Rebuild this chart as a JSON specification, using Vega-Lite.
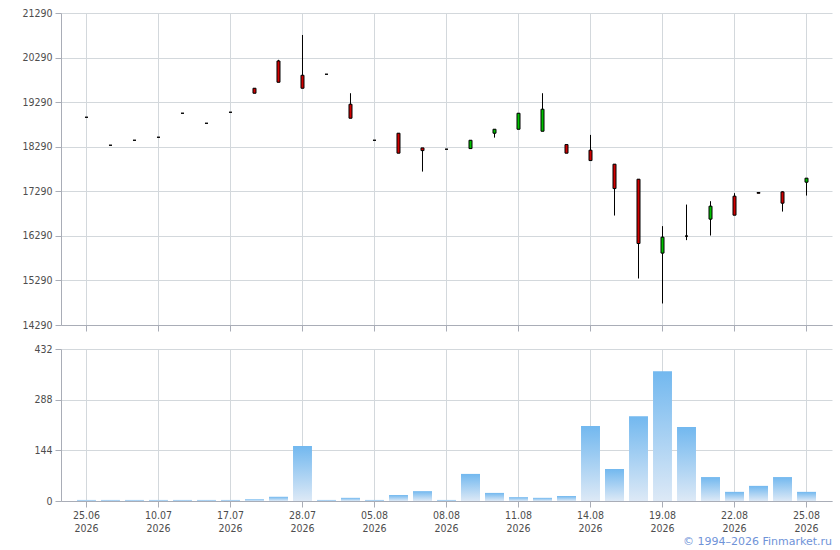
{
  "$schema": "https://vega.github.io/schema/vega-lite/v6.json",
  "padding": {"left": 21, "top": 8, "right": 4, "bottom": 3},
  "background": "white",
  "datasets": {
    "q": [
      {"d": "25.06.2026", "o": 18951, "h": 18951, "l": 18951, "c": 18951, "v": 3},
      {"d": "30.06.2026", "o": 18323, "h": 18323, "l": 18323, "c": 18323, "v": 3},
      {"d": "03.07.2026", "o": 18435, "h": 18435, "l": 18435, "c": 18435, "v": 3},
      {"d": "10.07.2026", "o": 18502, "h": 18502, "l": 18502, "c": 18502, "v": 3},
      {"d": "14.07.2026", "o": 19041, "h": 19041, "l": 19041, "c": 19041, "v": 3},
      {"d": "15.07.2026", "o": 18816, "h": 18816, "l": 18816, "c": 18816, "v": 3},
      {"d": "17.07.2026", "o": 19063, "h": 19063, "l": 19063, "c": 19063, "v": 3},
      {"d": "22.07.2026", "o": 19602, "h": 19602, "l": 19490, "c": 19490, "v": 5},
      {"d": "24.07.2026", "o": 20214, "h": 20240, "l": 19736, "c": 19736, "v": 12},
      {"d": "28.07.2026", "o": 19893, "h": 20797, "l": 19602, "c": 19602, "v": 156},
      {"d": "30.07.2026", "o": 19916, "h": 19916, "l": 19916, "c": 19916, "v": 3},
      {"d": "01.08.2026", "o": 19243, "h": 19490, "l": 18929, "c": 18929, "v": 9},
      {"d": "05.08.2026", "o": 18435, "h": 18435, "l": 18435, "c": 18435, "v": 3},
      {"d": "06.08.2026", "o": 18593, "h": 18593, "l": 18145, "c": 18145, "v": 17},
      {"d": "07.08.2026", "o": 18263, "h": 18263, "l": 17732, "c": 18203, "v": 28},
      {"d": "08.08.2026", "o": 18234, "h": 18234, "l": 18234, "c": 18234, "v": 3},
      {"d": "09.08.2026", "o": 18248, "h": 18435, "l": 18248, "c": 18435, "v": 77},
      {"d": "10.08.2026", "o": 18593, "h": 18682, "l": 18494, "c": 18682, "v": 23},
      {"d": "11.08.2026", "o": 18682, "h": 19041, "l": 18682, "c": 19041, "v": 11},
      {"d": "12.08.2026", "o": 18637, "h": 19490, "l": 18637, "c": 19131, "v": 9},
      {"d": "13.08.2026", "o": 18338, "h": 18338, "l": 18145, "c": 18145, "v": 14},
      {"d": "14.08.2026", "o": 18212, "h": 18555, "l": 17979, "c": 17979, "v": 213},
      {"d": "15.08.2026", "o": 17898, "h": 17898, "l": 16746, "c": 17351, "v": 91},
      {"d": "18.08.2026", "o": 17561, "h": 17561, "l": 15333, "c": 16118, "v": 241},
      {"d": "19.08.2026", "o": 15903, "h": 16508, "l": 14773, "c": 16261, "v": 369},
      {"d": "20.08.2026", "o": 16284, "h": 16992, "l": 16194, "c": 16284, "v": 210},
      {"d": "21.08.2026", "o": 16665, "h": 17068, "l": 16297, "c": 16956, "v": 68},
      {"d": "22.08.2026", "o": 17180, "h": 17248, "l": 16754, "c": 16754, "v": 26},
      {"d": "23.08.2026", "o": 17262, "h": 17262, "l": 17246, "c": 17246, "v": 43},
      {"d": "24.08.2026", "o": 17277, "h": 17290, "l": 16835, "c": 17023, "v": 68},
      {"d": "25.08.2026", "o": 17494, "h": 17584, "l": 17194, "c": 17584, "v": 26}
    ]
  },
  "title": {
    "text": "© 1994–2026 Finmarket.ru",
    "orient": "bottom",
    "anchor": "end",
    "color": "#6f93d8",
    "fontSize": 11,
    "fontWeight": "normal",
    "font": "DejaVu Sans",
    "offset": 2
  },
  "spacing": 12,
  "vconcat": [
    {
      "width": 771,
      "height": 312,
      "data": {"name": "q"},
      "encoding": {
        "x": {
          "field": "d",
          "type": "ordinal",
          "sort": null,
          "scale": {"paddingInner": 0.21, "paddingOuter": 0.667},
          "axis": {
            "title": null,
            "labels": false,
            "values": ["25.06.2026", "10.07.2026", "17.07.2026", "28.07.2026", "05.08.2026", "08.08.2026", "11.08.2026", "14.08.2026", "19.08.2026", "22.08.2026", "25.08.2026"],
            "grid": true,
            "tickSize": 6
          }
        }
      },
      "layer": [
        {
          "mark": {"type": "rule", "color": "black", "strokeWidth": 1},
          "encoding": {
            "y": {
              "field": "l",
              "type": "quantitative",
              "scale": {"domain": [14290, 21290], "nice": false, "zero": false},
              "axis": {"title": null, "values": [14290, 15290, 16290, 17290, 18290, 19290, 20290, 21290], "format": "d", "grid": true}
            },
            "y2": {"field": "h"}
          }
        },
        {
          "mark": {"type": "bar", "size": 3, "stroke": "black", "strokeWidth": 1},
          "encoding": {
            "y": {"field": "o", "type": "quantitative"},
            "y2": {"field": "c"},
            "fill": {"condition": {"test": "datum.c > datum.o", "value": "#00c000"}, "value": "#d00000"}
          }
        }
      ]
    },
    {
      "width": 771,
      "height": 152,
      "data": {"name": "q"},
      "mark": {
        "type": "bar",
        "color": {
          "gradient": "linear",
          "x1": 0, "y1": 0, "x2": 0, "y2": 1,
          "stops": [
            {"offset": 0, "color": "#72b8ef"},
            {"offset": 1, "color": "#dde9f6"}
          ]
        }
      },
      "encoding": {
        "x": {
          "field": "d",
          "type": "ordinal",
          "sort": null,
          "scale": {"paddingInner": 0.21, "paddingOuter": 0.667},
          "axis": {
            "title": null,
            "values": ["25.06.2026", "10.07.2026", "17.07.2026", "28.07.2026", "05.08.2026", "08.08.2026", "11.08.2026", "14.08.2026", "19.08.2026", "22.08.2026", "25.08.2026"],
            "labelExpr": "[slice(datum.value, 0, 5), slice(datum.value, 6)]",
            "labelAngle": 0,
            "grid": true,
            "tickSize": 6,
            "labelLineHeight": 13
          }
        },
        "y": {
          "field": "v",
          "type": "quantitative",
          "scale": {"domain": [0, 432], "nice": false},
          "axis": {"title": null, "values": [0, 144, 288, 432], "grid": true}
        }
      }
    }
  ],
  "config": {
    "view": {"stroke": null},
    "axis": {
      "labelFont": "DejaVu Sans Condensed, DejaVu Sans",
      "labelFontSize": 10.5,
      "labelColor": "#4d4d4d",
      "gridColor": "#d3d8dc",
      "gridWidth": 1,
      "domainColor": "#a9adb7",
      "tickColor": "#a9adb7",
      "tickSize": 6,
      "labelPadding": 3
    }
  }
}
